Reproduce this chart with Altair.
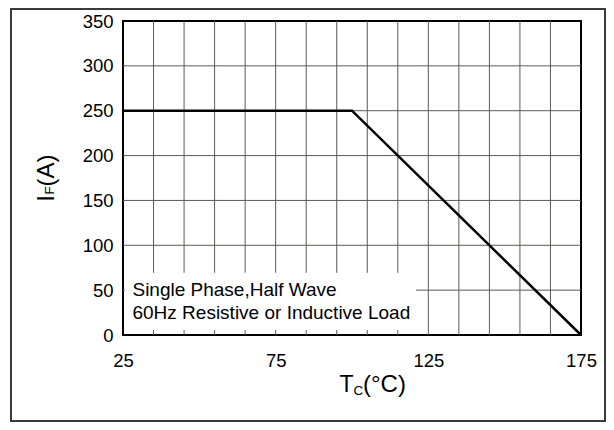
import altair as alt
import pandas as pd

# ---- data ----
tc = [25, 100, 175]          # case temperature (°C)
i_f = [250, 250, 0]          # forward current (A)

x_grid = [35, 45, 55, 65, 75, 85, 95, 105, 115, 125, 135, 145, 155, 165]
y_grid = [50, 100, 150, 200, 250, 300]
x_ticks = [25, 75, 125, 175]
y_ticks = [0, 50, 100, 150, 200, 250, 300, 350]

note_lines = ["Single Phase,Half Wave", "60Hz Resistive or Inductive Load"]
note_x = [28.1, 28.1]
note_y = [43.8, 17.8]

box_x = [25.6]
box_x2 = [121]
box_y = [5.5]
box_y2 = [69.5]

FONT = "Liberation Sans"

xscale = alt.Scale(domain=[25, 175], nice=False, zero=False)
yscale = alt.Scale(domain=[0, 350], nice=False, zero=True)
xaxis = alt.Axis(values=x_ticks, grid=False, ticks=False, tickSize=0, domain=False,
                 labelPadding=16, labelFontSize=18.5, labelFont=FONT, labelColor="black",
                 labelFlush=False, labelOverlap=False, title=None)
yaxis = alt.Axis(values=y_ticks, grid=False, ticks=False, tickSize=0, domain=False,
                 labelPadding=10, labelFontSize=18.5, labelFont=FONT, labelColor="black",
                 labelOverlap=False, title=None)

GRID = "#5e5853"

vgrid = alt.Chart(pd.DataFrame({"tc": x_grid})).mark_rule(
    color=GRID, strokeWidth=1).encode(
    x=alt.X("tc:Q", scale=xscale, axis=xaxis))
hgrid = alt.Chart(pd.DataFrame({"amp": y_grid})).mark_rule(
    color=GRID, strokeWidth=1).encode(
    y=alt.Y("amp:Q", scale=yscale, axis=yaxis))

box = alt.Chart(pd.DataFrame({"tc": box_x, "tc2": box_x2, "amp": box_y, "amp2": box_y2})).mark_rect(
    color="white").encode(
    x=alt.X("tc:Q", scale=xscale, axis=xaxis), x2="tc2:Q",
    y=alt.Y("amp:Q", scale=yscale, axis=yaxis), y2="amp2:Q")

line = alt.Chart(pd.DataFrame({"tc": tc, "amp": i_f})).mark_line(
    color="black", strokeWidth=2.5).encode(
    x=alt.X("tc:Q", scale=xscale, axis=xaxis),
    y=alt.Y("amp:Q", scale=yscale, axis=yaxis))

note = alt.Chart(pd.DataFrame({"tc": note_x, "amp": note_y, "t": note_lines})).mark_text(
    align="left", baseline="alphabetic", fontSize=19, font=FONT, color="black").encode(
    x=alt.X("tc:Q", scale=xscale, axis=xaxis),
    y=alt.Y("amp:Q", scale=yscale, axis=yaxis),
    text="t:N")

one = pd.DataFrame({"k": [0]})

def label(txt, x, y, size, angle=0):
    return alt.Chart(one).mark_text(
        text=txt, align="left", baseline="alphabetic", fontSize=size, font=FONT,
        color="black", angle=angle).encode(x=alt.value(x), y=alt.value(y))

xt1 = label("T", 216.5, 371.3, 23)
xt2 = label("C", 230.5, 374, 13.5)
xt3 = label("(°C)", 240, 371.3, 24)

yt1 = label("I", -69.5, 180.5, 23, 270)
yt2 = label("F", -69.5, 173.5, 13.5, 270)
yt3 = label("(A)", -69.5, 165.5, 24, 270)

frame = alt.Chart(one).mark_rect(
    fillOpacity=0, stroke="#3a3a3a", strokeWidth=2).encode(
    x=alt.value(-112), x2=alt.value(482), y=alt.value(-12), y2=alt.value(400))

chart = alt.layer(vgrid, hgrid, box, line, note, xt1, xt2, xt3, yt1, yt2, yt3, frame).properties(
    width=458, height=314,
    autosize=alt.AutoSizeParams(type="none"),
    padding={"left": 115, "top": 13, "right": 25, "bottom": 87},
    background="white",
).configure_view(stroke="black", strokeWidth=2)

chart.save("out.html", embed_options={"renderer": "svg", "actions": False})
